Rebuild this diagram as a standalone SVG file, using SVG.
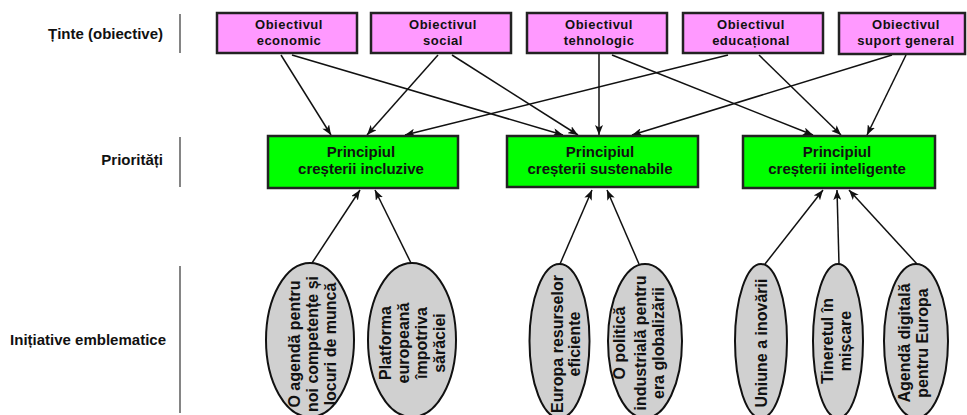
<svg xmlns="http://www.w3.org/2000/svg" width="967" height="415" viewBox="0 0 967 415">
<defs>
<style>
text{font-family:"Liberation Sans",Arial,sans-serif;font-weight:bold;fill:#111}
.lbl{font-size:15px;text-anchor:end}
.pink{fill:#FF99FF;stroke:#222;stroke-width:2.5}
.green{fill:#00FF00;stroke:#222;stroke-width:2.5}
.ell{fill:#D0D0D0;stroke:#111;stroke-width:2}
.pt{font-size:13px;letter-spacing:0.5px;text-anchor:middle}
.gt{font-size:15px;text-anchor:middle}
.et{font-size:16px;text-anchor:middle}
.sep{stroke:#333;stroke-width:1.2}
.c{stroke:#111;stroke-width:1.5;fill:none;marker-end:url(#ah)}
</style>
<marker id="ah" markerUnits="userSpaceOnUse" markerWidth="10" markerHeight="8" refX="10" refY="4" orient="auto">
<path d="M0,0 L10,4 L0,8 L2.5,4 z" fill="#111"/>
</marker>
</defs>
<rect width="967" height="415" fill="#fff"/>

<g id="labels">
<text class="lbl" x="163" y="39">Ținte (obiective)</text>
<text class="lbl" x="163" y="165">Priorități</text>
<text class="lbl" x="166" y="345">Inițiative emblematice</text>
<line class="sep" x1="180" y1="14" x2="180" y2="53"/>
<line class="sep" x1="180" y1="137" x2="180" y2="187"/>
<line class="sep" x1="180" y1="266" x2="180" y2="413"/>
</g>

<g id="connectors">
<line class="c" x1="281" y1="55" x2="331" y2="135"/>
<line class="c" x1="292" y1="55" x2="563" y2="135"/>
<line class="c" x1="438" y1="55" x2="367" y2="135"/>
<line class="c" x1="452" y1="55" x2="578" y2="135"/>
<line class="c" x1="599" y1="54" x2="599" y2="135"/>
<line class="c" x1="612" y1="55" x2="813" y2="135"/>
<line class="c" x1="728" y1="55" x2="405" y2="135"/>
<line class="c" x1="759" y1="55" x2="841" y2="135"/>
<line class="c" x1="892" y1="55" x2="632" y2="135"/>
<line class="c" x1="906" y1="55" x2="867" y2="135"/>
<line class="c" x1="312" y1="263" x2="360" y2="190"/>
<line class="c" x1="411" y1="263" x2="375" y2="190"/>
<line class="c" x1="560" y1="264" x2="592" y2="190"/>
<line class="c" x1="639" y1="264" x2="607" y2="190"/>
<line class="c" x1="765" y1="264" x2="823" y2="190"/>
<line class="c" x1="839" y1="264" x2="837" y2="190"/>
<line class="c" x1="917" y1="264" x2="849" y2="190"/>
</g>

<g id="obj-economic">
<rect class="pink" x="217" y="13" width="140" height="40"/>
<text class="pt" x="289" y="29">Obiectivul</text>
<text class="pt" x="289" y="44.5">economic</text>
</g>
<g id="obj-social">
<rect class="pink" x="371" y="13" width="140" height="40"/>
<text class="pt" x="443" y="29">Obiectivul</text>
<text class="pt" x="443" y="44.5">social</text>
</g>
<g id="obj-tehnologic">
<rect class="pink" x="527" y="13" width="140" height="40"/>
<text class="pt" x="599" y="29">Obiectivul</text>
<text class="pt" x="599" y="44.5">tehnologic</text>
</g>
<g id="obj-educational">
<rect class="pink" x="683" y="13" width="140" height="40"/>
<text class="pt" x="751" y="29">Obiectivul</text>
<text class="pt" x="751" y="44.5">educațional</text>
</g>
<g id="obj-suport">
<rect class="pink" x="839" y="13" width="126" height="41"/>
<text class="pt" x="906" y="29">Obiectivul</text>
<text class="pt" x="906" y="44.5">suport general</text>
</g>

<g id="pr-incluzive">
<rect class="green" x="268" y="136" width="190" height="52"/>
<text class="gt" x="361" y="157">Principiul</text>
<text class="gt" x="361" y="174">creșterii incluzive</text>
</g>
<g id="pr-sustenabile">
<rect class="green" x="507" y="136" width="191" height="51"/>
<text class="gt" x="600" y="157">Principiul</text>
<text class="gt" x="600" y="174">creșterii sustenabile</text>
</g>
<g id="pr-inteligente">
<rect class="green" x="743" y="136" width="192" height="52"/>
<text class="gt" x="837" y="157">Principiul</text>
<text class="gt" x="837" y="174">creșterii inteligente</text>
</g>

<g id="in-agenda">
<ellipse class="ell" cx="310" cy="340" rx="44" ry="77"/>
<text class="et" transform="translate(310,344) rotate(-90)"><tspan x="0" y="-10">O agendă pentru</tspan><tspan x="0" y="8">noi competențe și</tspan><tspan x="0" y="26">locuri de muncă</tspan></text>
</g>
<g id="in-platforma">
<ellipse class="ell" cx="412" cy="340" rx="44" ry="77"/>
<text class="et" transform="translate(412,343) rotate(-90)"><tspan x="0" y="-21">Platforma</tspan><tspan x="0" y="-3">europeană</tspan><tspan x="0" y="15">împotriva</tspan><tspan x="0" y="33">sărăciei</tspan></text>
</g>
<g id="in-europa">
<ellipse class="ell" cx="559.5" cy="341" rx="30" ry="77"/>
<text class="et" transform="translate(559.5,344) rotate(-90)"><tspan x="0" y="3">Europa resurselor</tspan><tspan x="0" y="20">eficiente</tspan></text>
</g>
<g id="in-politica">
<ellipse class="ell" cx="645" cy="341" rx="37" ry="77"/>
<text class="et" transform="translate(645,343) rotate(-90)"><tspan x="0" y="-20">O politică</tspan><tspan x="0" y="1">industrială pentru</tspan><tspan x="0" y="19">era globalizării</tspan></text>
</g>
<g id="in-uniune">
<ellipse class="ell" cx="761" cy="341" rx="26" ry="77"/>
<text class="et" transform="translate(761,343) rotate(-90)"><tspan x="0" y="6">Uniune a inovării</tspan></text>
</g>
<g id="in-tineretul">
<ellipse class="ell" cx="838" cy="341" rx="25" ry="77"/>
<text class="et" transform="translate(838,341) rotate(-90)"><tspan x="0" y="-5">Tineretul în</tspan><tspan x="0" y="13">mișcare</tspan></text>
</g>
<g id="in-agenda-digitala">
<ellipse class="ell" cx="916" cy="341" rx="32" ry="77"/>
<text class="et" transform="translate(916,343) rotate(-90)"><tspan x="0" y="-6">Agendă digitală</tspan><tspan x="0" y="12">pentru Europa</tspan></text>
</g>
</svg>
